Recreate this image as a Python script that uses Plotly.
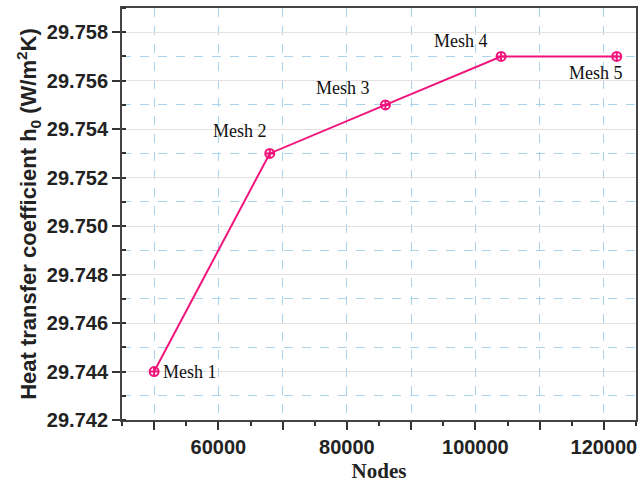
import plotly.graph_objects as go

nodes = [50000, 68000, 86000, 104000, 122000]
h0 = [29.744, 29.753, 29.755, 29.757, 29.757]
labels = ["Mesh 1", "Mesh 2", "Mesh 3", "Mesh 4", "Mesh 5"]
x_tickvals = [50000, 60000, 70000, 80000, 90000, 100000, 110000, 120000]
x_ticktext = ["", "60000", "", "80000", "", "100000", "", "120000"]
y_tickvals = [29.742, 29.744, 29.746, 29.748, 29.750, 29.752, 29.754, 29.756, 29.758]
y_ticktext = ["%.3f" % v for v in y_tickvals]

label_offsets = [(36, 0), (-30, 22), (-42, 17), (-40, 15), (-21, -17)]

pink = "#f0157c"
grid_blue = "#a9d4ec"

fig = go.Figure()
fig.add_trace(go.Scatter(
    x=nodes, y=h0, mode="lines+markers",
    line=dict(color=pink, width=2),
    marker=dict(symbol="circle-cross-open", size=9, color=pink, line=dict(width=2, color=pink)),
    showlegend=False,
))

for xv, yv, t, (dx, dy) in zip(nodes, h0, labels, label_offsets):
    fig.add_annotation(x=xv, y=yv, text=t, showarrow=False, xshift=dx, yshift=dy,
                       font=dict(family="Liberation Serif", size=18, color="#111111"))

axis_font = dict(family="Liberation Sans", size=20, color="#222222", weight="bold")

fig.update_xaxes(
    range=[45000, 125000],
    tickmode="array", tickvals=x_tickvals, ticktext=x_ticktext,
    ticks="outside", ticklen=8, tickwidth=2, tickcolor="#333333",
    minor=dict(dtick=5000, tick0=45000, ticks="outside", ticklen=4, tickwidth=1.5, tickcolor="#333333", showgrid=False),
    showgrid=True, gridcolor=grid_blue, griddash="dash", gridwidth=1,
    showline=True, linecolor="#444444", linewidth=2, mirror=True,
    zeroline=False,
    tickfont=axis_font,
    title=dict(text="Nodes", font=dict(family="Liberation Serif", size=21, color="#222222", weight="bold"), standoff=7),
)
fig.update_yaxes(
    range=[29.742, 29.759],
    tickmode="array", tickvals=y_tickvals, ticktext=y_ticktext,
    ticks="outside", ticklen=8, tickwidth=2, tickcolor="#333333",
    minor=dict(dtick=0.001, tick0=29.742, ticks="inside", ticklen=4, tickwidth=1.5, tickcolor="#333333",
               showgrid=True, gridcolor=grid_blue, griddash="dash", gridwidth=1),
    showgrid=True, gridcolor="#e6e0e0", gridwidth=1,
    showline=True, linecolor="#444444", linewidth=2, mirror=True,
    zeroline=False,
    tickfont=axis_font,
    title=dict(text="Heat transfer coefficient h<sub>0</sub> (W/m<sup>2</sup>K)",
               font=dict(family="Liberation Sans", size=22, color="#222222", weight="bold"), standoff=4),
)

fig.update_layout(
    width=641, height=483,
    margin=dict(l=122, r=3, t=8, b=60),
    plot_bgcolor="white", paper_bgcolor="white",
)

fig.write_html(
    "out.html",
    config={"displayModeBar": False},
    post_script="document.body.style.margin='0';document.body.style.overflow='hidden';",
)
